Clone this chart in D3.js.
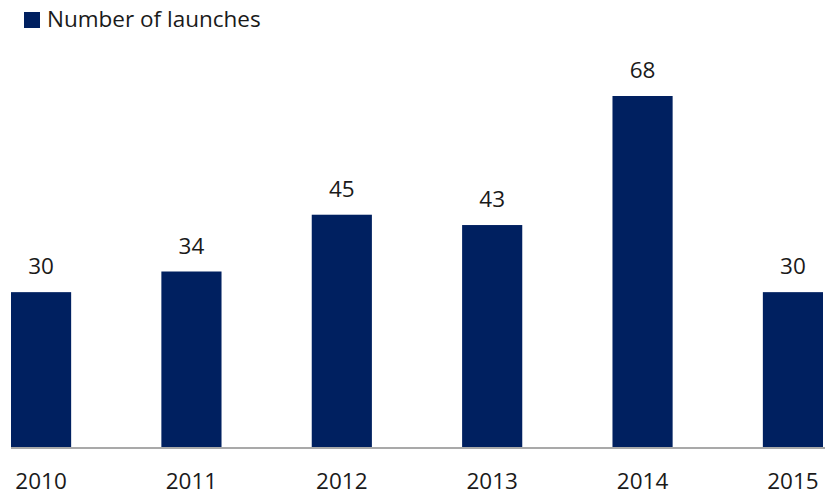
<!DOCTYPE html>
<html>
<head>
<meta charset="utf-8">
<script src="https://cdn.jsdelivr.net/npm/d3@7"></script>
<style>
  body { margin: 0; background: #fff; }
  text { font-family: "Open Sans", "Liberation Sans", Arial, sans-serif; fill: #1a1a1a; }
</style>
</head>
<body>
<div id="chart"></div>
<script>
const years = ["2010", "2011", "2012", "2013", "2014", "2015"];
const launches = [30, 34, 45, 43, 68, 30];
const seriesName = "Number of launches";

const width = 825, height = 499;
const barColor = "#002060";

const svg = d3.select("#chart").append("svg")
  .attr("width", width)
  .attr("height", height);

const x = d3.scaleBand()
  .domain(years)
  .range([11, 823])
  .paddingInner(0.6)
  .paddingOuter(0);

const y = d3.scaleLinear()
  .domain([0, d3.max(launches)])
  .range([447, 96]);

const data = years.map((yr, i) => ({ year: yr, value: launches[i] }));

svg.selectAll("rect.bar")
  .data(data)
  .enter()
  .append("rect")
  .attr("class", "bar")
  .attr("x", d => x(d.year))
  .attr("y", d => y(d.value))
  .attr("width", x.bandwidth())
  .attr("height", d => y(0) - y(d.value))
  .attr("fill", barColor);

// baseline
svg.append("line")
  .attr("x1", 11).attr("x2", width)
  .attr("y1", y(0) + 1).attr("y2", y(0) + 1)
  .attr("stroke", "#8c8c8c")
  .attr("stroke-width", 1.5);

// value labels
svg.selectAll("text.val")
  .data(data)
  .enter()
  .append("text")
  .attr("class", "val")
  .attr("x", d => x(d.year) + x.bandwidth() / 2)
  .attr("y", d => y(d.value) - 18)
  .attr("text-anchor", "middle")
  .attr("font-size", 22.5)
  .text(d => d.value);

// year labels
svg.selectAll("text.yr")
  .data(data)
  .enter()
  .append("text")
  .attr("class", "yr")
  .attr("x", d => x(d.year) + x.bandwidth() / 2)
  .attr("y", 489)
  .attr("text-anchor", "middle")
  .attr("font-size", 22.5)
  .text(d => d.year);

// legend
const legend = svg.append("g");
legend.append("rect")
  .attr("x", 24).attr("y", 12)
  .attr("width", 16).attr("height", 16)
  .attr("fill", barColor);
legend.append("text")
  .attr("x", 47).attr("y", 27)
  .attr("font-size", 22.5)
  .text(seriesName);
</script>
</body>
</html>
